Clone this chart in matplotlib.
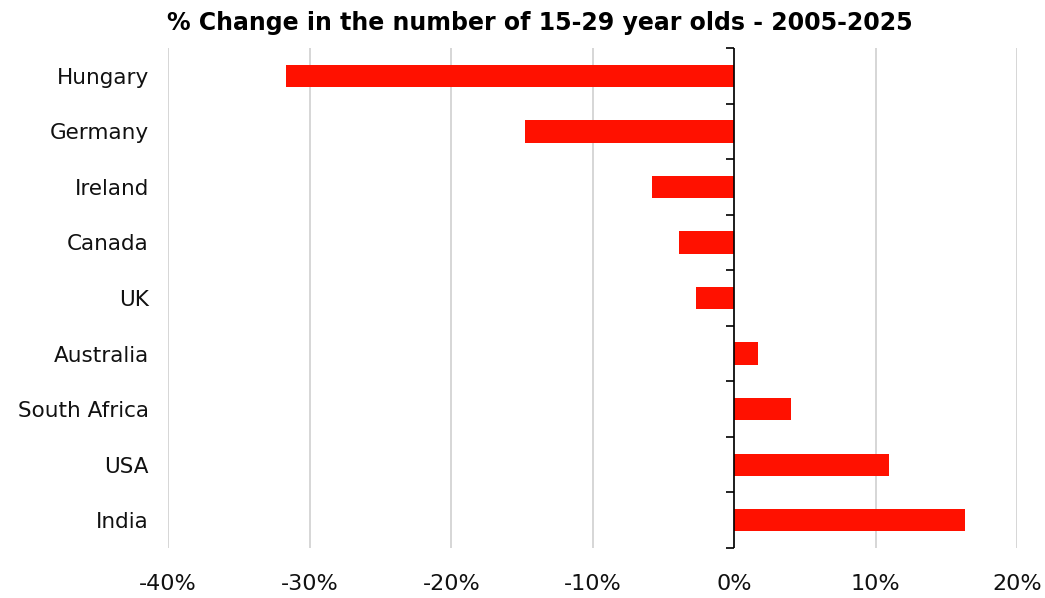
import matplotlib.pyplot as plt
from matplotlib.ticker import FuncFormatter

countries = ['Hungary', 'Germany', 'Ireland', 'Canada', 'UK',
             'Australia', 'South Africa', 'USA', 'India']
change = [-31.7, -14.8, -5.8, -3.9, -2.7, 1.7, 4.0, 10.9, 16.3]


def main():
    fig = plt.figure(figsize=(10.45, 5.98), dpi=100)
    ax = fig.add_axes([0.161, 0.0836, 0.8125, 0.836])

    y = list(range(len(countries)))
    ax.barh(y, change, height=0.4, color='#ff1100', zorder=3)

    ax.set_xlim(-40, 20)
    ax.set_ylim(len(countries) - 0.5, -0.5)
    ax.set_xticks(range(-40, 21, 10))
    ax.xaxis.set_major_formatter(FuncFormatter(lambda v, p: f'{v:.0f}%'))
    ax.set_yticks(y)
    ax.set_yticklabels(countries)

    # grille verticale grise
    ax.grid(axis='x', color='#cccccc', linewidth=1.1, zorder=0)
    ax.set_axisbelow(True)
    for s in ax.spines.values():
        s.set_visible(False)

    ax.tick_params(axis='x', length=0, pad=19, labelsize=16, colors='#111111')
    ax.tick_params(axis='y', length=0, pad=14, labelsize=15.5, colors='#111111')

    # axe vertical en 0 avec petites graduations entre catégories
    ax.axvline(0, color='black', linewidth=1.2, zorder=4)
    bounds = [i - 0.5 for i in range(len(countries) + 1)]
    ax.plot([0] * len(bounds), bounds, linestyle='none', marker=0,
            markersize=6, markeredgewidth=1.2, color='black', zorder=4,
            clip_on=False)

    fig.text(0.517, 0.962, '% Change in the number of 15-29 year olds - 2005-2025',
             ha='center', va='center', fontsize=17, fontweight='bold')

    fig.savefig('out.png', dpi=100)


if __name__ == "__main__":
    main()
